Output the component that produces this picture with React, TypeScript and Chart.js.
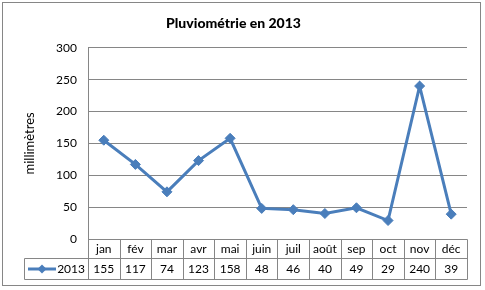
import React, { useEffect, useRef } from "react";
import { Chart, registerables } from "chart.js";

Chart.register(...registerables);

const TITLE = "Pluviométrie en 2013";
const Y_TITLE = "millimètres";
const SERIES_NAME = "2013";
const months = ["jan", "fév", "mar", "avr", "mai", "juin", "juil", "août", "sep", "oct", "nov", "déc"];
const rainfall = [155, 117, 74, 123, 158, 48, 46, 40, 49, 29, 240, 39];
const yTicks = [0, 50, 100, 150, 200, 250, 300];

const LINE = "#4A7EBB";
const GRID = "#868686";
const FONT = "Lato, 'Open Sans', sans-serif";

const drawDiamond = (ctx: CanvasRenderingContext2D, x: number, y: number, r: number) => {
  ctx.beginPath();
  ctx.moveTo(x, y - r);
  ctx.lineTo(x + r, y);
  ctx.lineTo(x, y + r);
  ctx.lineTo(x - r, y);
  ctx.closePath();
  ctx.fill();
};

const framePlugin = {
  id: "frame",
  beforeDraw(chart: any) {
    const { ctx, width, height } = chart;
    ctx.save();
    ctx.fillStyle = "#ffffff";
    ctx.fillRect(0, 0, width, height);
    ctx.restore();
  },
  afterDraw(chart: any) {
    const { ctx, chartArea, scales } = chart;
    const xs = scales.x;
    const n = months.length;
    const left = chartArea.left;
    const right = chartArea.right;
    const cw = (right - left) / n;
    const top = Math.round(chartArea.bottom) + 0.5;
    const mid = top + 19;
    const bot = top + 40;
    const legendLeft = 24.5;
    const px = (v: number) => Math.round(v) + 0.5;

    ctx.save();
    ctx.strokeStyle = GRID;
    ctx.lineWidth = 1;
    ctx.beginPath();
    ctx.moveTo(px(left), top);
    ctx.lineTo(px(right), top);
    ctx.moveTo(legendLeft, mid);
    ctx.lineTo(px(right), mid);
    ctx.moveTo(legendLeft, bot);
    ctx.lineTo(px(right), bot);
    ctx.moveTo(legendLeft, mid);
    ctx.lineTo(legendLeft, bot);
    for (let i = 0; i < n; i++) {
      const bx = px(xs.getPixelForValue(i) - cw / 2);
      ctx.moveTo(bx, top);
      ctx.lineTo(bx, bot);
    }
    ctx.moveTo(px(right), top);
    ctx.lineTo(px(right), bot);
    ctx.stroke();

    ctx.fillStyle = "#000000";
    ctx.font = `12px ${FONT}`;
    ctx.textAlign = "center";
    ctx.textBaseline = "middle";
    for (let i = 0; i < n; i++) {
      const cx = xs.getPixelForValue(i);
      ctx.fillText(months[i], cx, (top + mid) / 2 + 0.5);
      ctx.fillText(String(rainfall[i]), cx, (mid + bot) / 2 + 0.5);
    }

    const ly = Math.round((mid + bot) / 2);
    ctx.strokeStyle = LINE;
    ctx.lineWidth = 3;
    ctx.beginPath();
    ctx.moveTo(28, ly);
    ctx.lineTo(56, ly);
    ctx.stroke();
    ctx.fillStyle = LINE;
    drawDiamond(ctx, 42, ly, 4.5);
    ctx.fillStyle = "#000000";
    ctx.textAlign = "right";
    ctx.fillText(SERIES_NAME, 85, (mid + bot) / 2 + 0.5);

    ctx.strokeStyle = GRID;
    ctx.lineWidth = 1;
    ctx.strokeRect(2.5, 2.5, 478, 283);
    ctx.restore();
  },
};

export default function App() {
  const ref = useRef<HTMLCanvasElement | null>(null);

  useEffect(() => {
    if (!ref.current) return;
    const chart = new Chart(ref.current, {
      type: "line",
      data: {
        labels: months,
        datasets: [
          {
            label: SERIES_NAME,
            data: rainfall,
            borderColor: LINE,
            backgroundColor: LINE,
            borderWidth: 3,
            pointStyle: "rectRot",
            pointRadius: 5,
            pointBackgroundColor: LINE,
            pointBorderColor: LINE,
            pointBorderWidth: 1,
            tension: 0,
          },
        ],
      },
      options: {
        responsive: false,
        animation: false,
        devicePixelRatio: 1,
        layout: { padding: { left: 0, right: 18, top: 0, bottom: 0 } },
        plugins: {
          legend: { display: false },
          tooltip: { enabled: false },
          title: {
            display: true,
            text: TITLE,
            color: "#000000",
            font: { family: FONT, size: 14, weight: "900" },
            padding: { top: 15, bottom: 16 },
          },
        },
        scales: {
          x: {
            type: "category",
            offset: true,
            ticks: { display: false },
            grid: { display: false },
            border: { display: false },
            afterFit: (scale: any) => {
              scale.height = 51;
            },
          },
          y: {
            min: 0,
            max: 300,
            afterBuildTicks: (scale: any) => {
              scale.ticks = yTicks.map((v) => ({ value: v }));
            },
            ticks: {
              padding: 11,
              color: "#000000",
              font: { family: FONT, size: 12 },
            },
            grid: { color: GRID, drawTicks: false, lineWidth: 1 },
            border: { display: true, color: GRID, width: 1 },
            title: {
              display: true,
              text: Y_TITLE,
              color: "#000000",
              font: { family: FONT, size: 13 },
              padding: { top: 22, bottom: 0 },
            },
            afterFit: (scale: any) => {
              scale.width = 88;
            },
          },
        },
      },
      plugins: [framePlugin],
    } as any);
    return () => chart.destroy();
  }, []);

  return (
    <div style={{ position: "fixed", left: 0, top: 0, width: 485, height: 290, background: "#ffffff" }}>
      <canvas ref={ref} width={485} height={290} style={{ display: "block" }} />
    </div>
  );
}
